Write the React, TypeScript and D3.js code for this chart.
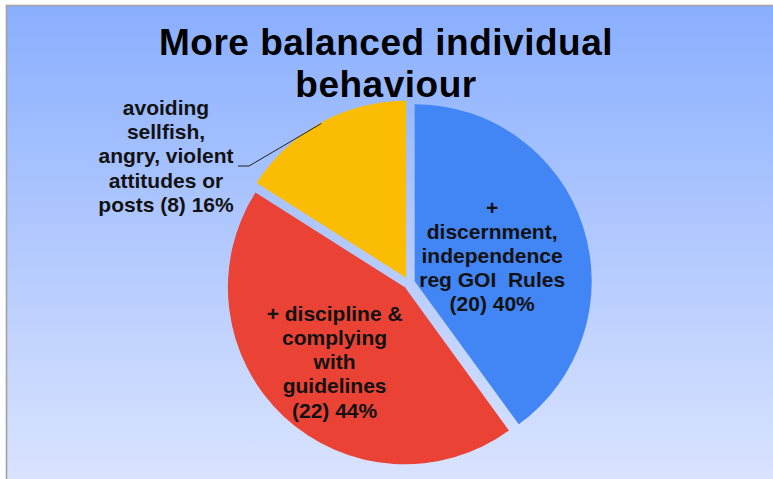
import * as d3 from 'd3';

// slice data (clockwise from 12 o'clock)
const categories = [
  '+ discernment, independence reg GOI Rules',
  '+ discipline & complying with guidelines',
  'avoiding sellfish, angry, violent attitudes or posts',
];
const counts = [20, 22, 8];
const percents = [40, 44, 16];
const colors = ['#4285F4', '#EA4335', '#FBBC04'];
const labelLines = [
  ['+', 'discernment,', 'independence', 'reg GOI  Rules'],
  ['+ discipline &', 'complying', 'with', 'guidelines'],
  ['avoiding', 'sellfish,', 'angry, violent', 'attitudes or'],
];
const titleLines = ['More balanced individual', 'behaviour'];

const W = 773;
const H = 479;
const FONT = '"Liberation Sans", Arial, sans-serif';

export default function App() {
  const cx = 409;
  const cy = 283;
  const r = 177;
  const explode = 6;
  const lineH = 24.2;

  const pie = d3.pie<number>().sort(null).value(d => d);
  const arcs = pie(counts);
  const arc = d3.arc<d3.PieArcDatum<number>>().innerRadius(0).outerRadius(r);

  // where each label sits, as a fraction of radius along the slice bisector
  const labelR = [0.46, 0.58];

  const shift = (a: d3.PieArcDatum<number>) => {
    const mid = (a.startAngle + a.endAngle) / 2;
    return [Math.sin(mid) * explode, -Math.cos(mid) * explode];
  };

  return (
    <svg width={W} height={H} style={{ position: 'absolute', left: 0, top: 0 }}>
      <defs>
        <linearGradient id="bg" x1="0" y1="0" x2="0" y2="1">
          <stop offset="0%" stopColor="#8aafff" />
          <stop offset="100%" stopColor="#dee6fe" />
        </linearGradient>
      </defs>
      <rect width={W} height={H} fill="#fff" />
      <rect x={6.5} y={5.5} width={W + 20} height={H + 20} fill="url(#bg)" stroke="#a2a2a2" strokeWidth={1.6} />

      {titleLines.map((t, i) => (
        <text
          key={t}
          x={386}
          y={55 + i * 42}
          textAnchor="middle"
          fontFamily={FONT}
          fontWeight="bold"
          fontSize={37}
          letterSpacing={0.5}
          fill="#000"
        >
          {t}
        </text>
      ))}

      {arcs.map((a, i) => {
        const [dx, dy] = shift(a);
        return (
          <g key={categories[i]} transform={`translate(${cx + dx},${cy + dy})`}>
            <path d={arc(a) || ''} fill={colors[i]} />
          </g>
        );
      })}

      {arcs.slice(0, 2).map((a, i) => {
        const [dx, dy] = shift(a);
        const mid = (a.startAngle + a.endAngle) / 2;
        const lx = cx + dx + Math.sin(mid) * r * labelR[i];
        const ly = cy + dy - Math.cos(mid) * r * labelR[i];
        const lines = [...labelLines[i], `(${counts[i]}) ${percents[i]}%`];
        const y0 = ly - ((lines.length - 1) * lineH) / 2 + 7;
        return (
          <text key={i} textAnchor="middle" fontFamily={FONT} fontWeight="bold" fontSize={21} fill="#111">
            {lines.map((l, j) => (
              <tspan key={j} x={lx} y={y0 + j * lineH} style={{ whiteSpace: 'pre' }}>
                {l}
              </tspan>
            ))}
          </text>
        );
      })}

      {(() => {
        const a = arcs[2];
        const [dx, dy] = shift(a);
        const mid = (a.startAngle + a.endAngle) / 2;
        const px = cx + dx + Math.sin(mid) * (r - 1);
        const py = cy + dy - Math.cos(mid) * (r - 1);
        const lines = [...labelLines[2], `posts (${counts[2]}) ${percents[2]}%`];
        const lx = 166;
        const y0 = 115;
        return (
          <g>
            <polyline
              points={`238,166 249,166 ${px},${py}`}
              fill="none"
              stroke="#222"
              strokeWidth={1}
            />
            <text textAnchor="middle" fontFamily={FONT} fontWeight="bold" fontSize={21} fill="#111">
              {lines.map((l, j) => (
                <tspan key={j} x={lx} y={y0 + j * lineH}>
                  {l}
                </tspan>
              ))}
            </text>
          </g>
        );
      })()}
    </svg>
  );
}
